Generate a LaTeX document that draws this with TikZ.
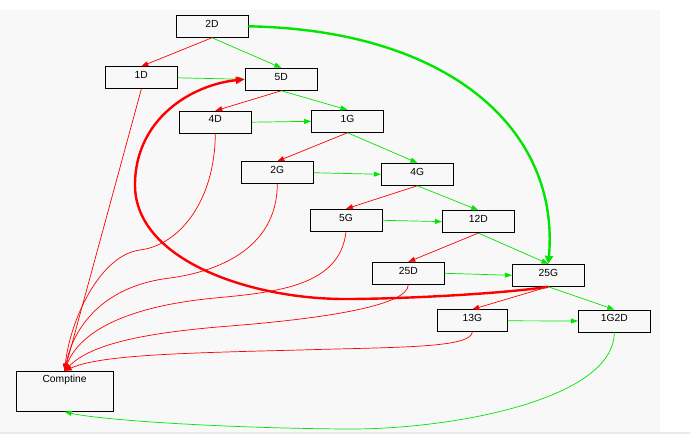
\documentclass[tikz,border=0pt]{standalone}
\usepackage{fontspec}
\setmainfont{Liberation Sans}
\usetikzlibrary{arrows.meta}
\definecolor{bggray}{RGB}{248,248,248}
\definecolor{stripgray}{RGB}{230,234,238}
\definecolor{gedge}{RGB}{0,230,0}
\definecolor{redge}{RGB}{255,0,0}
\begin{document}
\begin{tikzpicture}[x=1pt,y=-1pt,
  box/.style={draw=black, line width=0.9pt, rectangle, inner sep=0pt,
    minimum width=72pt, minimum height=22pt,
    font=\fontsize{10.3}{12}\selectfont, text height=7.5pt, text depth=6pt},
  red arrow/.style={draw=redge, line width=0.7pt, -{Triangle[length=7pt,width=5pt]}},
  green arrow/.style={draw=gedge, line width=0.7pt, -{Triangle[length=7pt,width=5pt]}},
  thick red/.style={draw=redge, line width=2.4pt, -{Triangle[length=9pt,width=7pt]}},
  thick green/.style={draw=gedge, line width=2.4pt, -{Triangle[length=8pt,width=8pt]}}]
\useasboundingbox (0,0) rectangle (690,434);
\fill[bggray] (0,10) rectangle (660,432);
\fill[stripgray] (0,432) rectangle (690,434);

\node[box] (n2D) at (212,26.3) {2D};
\node[box] (n1D) at (141.3,77.8) {1D};
\node[box] (n5D) at (281.3,79.3) {5D};
\node[box] (n4D) at (215.3,122.2) {4D};
\node[box] (n1G) at (347.5,121.3) {1G};
\node[box] (n2G) at (277.3,172.7) {2G};
\node[box] (n4G) at (417.3,174.3) {4G};
\node[box] (n5G) at (346,220.3) {5G};
\node[box] (n12D) at (478.3,221.6) {12D};
\node[box] (n25D) at (408.3,273.3) {25D};
\node[box] (n25G) at (548.3,275.3) {25G};
\node[box, minimum width=70pt] (n13G) at (472.3,320.8) {13G};
\node[box] (n1G2D) at (614.3,321) {1G2D};
\node[box, minimum width=96.7pt, minimum height=40pt, text depth=24.7pt] (ncomp) at (64.6,391.3) {Comptine};

% straight edges
\draw[red arrow] (n2D.south) -- (n1D.north);
\draw[green arrow] (n2D.south) -- (n5D.north);
\draw[green arrow] (n1D.east) -- (n5D.west);
\draw[red arrow] (n1D.south) -- (ncomp.north);
\draw[red arrow] (n5D.south) -- (n4D.north);
\draw[green arrow] (n5D.south) -- (n1G.north);
\draw[green arrow] (n4D.east) -- (n1G.west);
\draw[red arrow] (n1G.south) -- (n2G.north);
\draw[green arrow] (n1G.south) -- (n4G.north);
\draw[green arrow] (n2G.east) -- (n4G.west);
\draw[red arrow] (n4G.south) -- (n5G.north);
\draw[green arrow] (n4G.south) -- (n12D.north);
\draw[green arrow] (n5G.east) -- (n12D.west);
\draw[red arrow] (n12D.south) -- (n25D.north);
\draw[green arrow] (n12D.south) -- (n25G.north);
\draw[green arrow] (n25D.east) -- (n25G.west);
\draw[red arrow] (n25G.south) -- (n13G.north);
\draw[green arrow] (n25G.south) -- (n1G2D.north);
\draw[green arrow] (n13G.east) -- (n1G2D.west);

% curved edges to Comptine
\draw[red arrow] (n4D.south) .. controls (215,200) and (180,245) .. (140,250)
   .. controls (100,255) and (70,320) .. (ncomp.north);
\draw[red arrow] (n2G.south) .. controls (277,250) and (215,272) .. (170,278)
   .. controls (110,285) and (75,320) .. (ncomp.north);
\draw[red arrow] (n5G.south) .. controls (340,285) and (280,292) .. (215,298)
   .. controls (130,306) and (80,330) .. (ncomp.north);
\draw[red arrow] (n25D.south) .. controls (408,305) and (330,318) .. (230,326)
   .. controls (140,333) and (90,345) .. (ncomp.north);
\draw[red arrow] (n13G.south) .. controls (470,348) and (400,347) .. (300,350)
   .. controls (180,353) and (100,355) .. (ncomp.north);
\draw[green arrow] (n1G2D.south) .. controls (614,400) and (450,430) .. (345,429)
   .. controls (220,428) and (100,420) .. (ncomp.south);

% thick edges
\draw[thick green] (n2D.east) .. controls (450,30) and (560,130) .. (n25G.north);
\draw[thick red] (n25G.south) .. controls (500,294) and (400,299) .. (345,299)
   .. controls (250,299) and (135,260) .. (135,185)
   .. controls (135,120) and (190,85) .. (n5D.west);
\end{tikzpicture}
\end{document}
